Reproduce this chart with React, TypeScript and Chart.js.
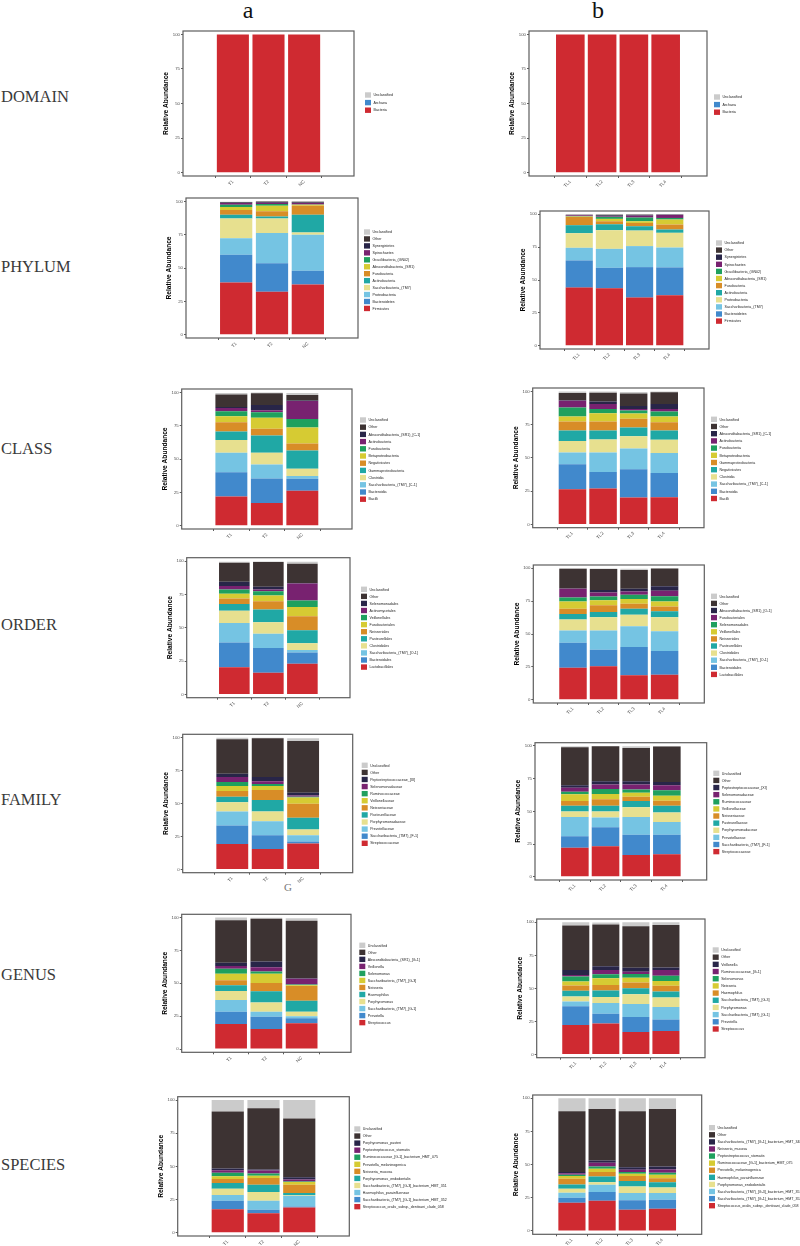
import React, { useEffect, useRef } from 'react';
import { Chart, registerables } from 'chart.js';

Chart.register(...registerables);
Chart.defaults.font.family = '"Liberation Sans", Arial, Helvetica, sans-serif';

// ---------- data ----------
const SAMPLES_A = ['T1', 'T2', 'NC'];
const SAMPLES_B = ['TL1', 'TL2', 'TL3', 'TL4'];
const Y_TICKS = [0, 25, 50, 75, 100];
const PALETTE = ['#CF2A31', '#4189CC', '#75C4E3', '#E7E08F', '#20A8A5', '#D88D27', '#D6CB33', '#1FA05E', '#782270', '#282548', '#3D3333', '#CBCBCB'];
const DOMAIN_PALETTE = ['#CF2A31', '#4189CC', '#CBCBCB'];
const ROW_LABELS = ['DOMAIN', 'PHYLUM', 'CLASS', 'ORDER', 'FAMILY', 'GENUS', 'SPECIES'];
const COLUMN_LABELS = ['a', 'b'];

const DOMAIN_TAXA = ['Bacteria', 'Archaea', 'Unclassified'];
const DOMAIN_A_VALUES = [[99.98, 99.98, 99.98], [0.01, 0.01, 0.01], [0.01, 0.01, 0.01]];
const DOMAIN_B_VALUES = [[99.98, 99.98, 99.98, 99.98], [0.01, 0.01, 0.01, 0.01], [0.01, 0.01, 0.01, 0.01]];

const PHYLUM_A_TAXA = ['Firmicutes', 'Bacteroidetes', 'Proteobacteria', 'Saccharibacteria_(TM7)', 'Actinobacteria', 'Fusobacteria', 'Absconditabacteria_(SR1)', 'Gracilibacteria_(GN02)', 'Spirochaetes', 'Synergistetes', 'Other', 'Unclassified'];
const PHYLUM_A_VALUES = [
  [39.1, 32.1, 37.6], [20.8, 21.5, 10.3], [12.5, 22.6, 27.0], [14.8, 11.0, 1.8],
  [2.8, 1.5, 13.3], [3.5, 3.8, 6.7], [2.2, 4.2, 0.8], [1.8, 1.3, 0.2],
  [1.2, 1.0, 1.0], [0.5, 0.5, 0.5], [0.3, 0.3, 0.5], [0.2, 0.2, 0.3],
];
const PHYLUM_B_TAXA = ['Firmicutes', 'Bacteroidetes', 'Saccharibacteria_(TM7)', 'Proteobacteria', 'Actinobacteria', 'Fusobacteria', 'Absconditabacteria_(SR1)', 'Gracilibacteria_(GN02)', 'Spirochaetes', 'Synergistetes', 'Other', 'Unclassified'];
const PHYLUM_B_VALUES = [
  [44.2, 43.7, 36.6, 38.4], [20.7, 15.6, 23.2, 21.2], [9.6, 14.4, 16.0, 15.1], [11.1, 14.2, 11.8, 11.2],
  [6.1, 4.5, 3.3, 2.5], [6.3, 2.3, 2.5, 3.8], [0.3, 1.8, 1.3, 3.8], [0.3, 1.5, 2.8, 1.2],
  [0.6, 0.5, 1.5, 2.3], [0.3, 0.7, 0.5, 0.2], [0.2, 0.5, 0.3, 0.2], [0.2, 0.3, 0.2, 0.1],
];

const CLASS_A_TAXA = ['Bacilli', 'Bacteroidia', 'Saccharibacteria_(TM7)_[C-1]', 'Clostridia', 'Gammaproteobacteria', 'Negativicutes', 'Betaproteobacteria', 'Fusobacteriia', 'Actinobacteria', 'Absconditabacteria_(SR1)_[C-1]', 'Other', 'Unclassified'];
const CLASS_A_VALUES = [
  [21.9, 17.0, 26.2], [18.2, 18.4, 9.0], [14.5, 10.5, 2.0], [9.7, 8.7, 5.4],
  [6.3, 13.0, 13.8], [7.0, 5.0, 5.2], [4.4, 8.4, 12.0], [3.8, 4.0, 6.4],
  [2.5, 1.5, 13.5], [0.7, 4.0, 0.3], [9.3, 8.8, 4.2], [1.2, 0.5, 1.5],
];
const CLASS_B_TAXA = ['Bacilli', 'Bacteroidia', 'Saccharibacteria_(TM7)_[C-1]', 'Clostridia', 'Negativicutes', 'Gammaproteobacteria', 'Betaproteobacteria', 'Fusobacteriia', 'Actinobacteria', 'Absconditabacteria_(SR1)_[C-1]', 'Other', 'Unclassified'];
const CLASS_B_VALUES = [
  [26.4, 26.9, 20.2, 20.4], [18.7, 12.5, 21.2, 18.3], [9.0, 14.7, 15.7, 14.9], [8.5, 9.7, 9.2, 10.0],
  [8.0, 6.8, 6.5, 7.0], [6.7, 6.7, 6.5, 6.2], [3.7, 6.2, 4.0, 4.2], [6.8, 3.3, 2.2, 3.8],
  [5.2, 3.7, 1.3, 2.0], [0.3, 1.8, 2.2, 3.7], [5.5, 6.7, 9.3, 8.8], [1.0, 0.8, 1.2, 0.5],
];

const ORDER_A_TAXA = ['Lactobacillales', 'Bacteroidales', 'Saccharibacteria_(TM7)_[O-1]', 'Clostridiales', 'Pasteurellales', 'Neisseriales', 'Fusobacteriales', 'Veillonellales', 'Actinomycetales', 'Selenomonadales', 'Other', 'Unclassified'];
const ORDER_A_VALUES = [
  [20.4, 16.3, 22.9], [18.5, 18.4, 8.5], [14.6, 10.8, 1.8], [9.3, 8.5, 5.2],
  [5.0, 9.6, 9.6], [4.1, 6.2, 10.5], [3.5, 4.3, 7.1], [3.2, 3.3, 4.8],
  [2.6, 1.2, 12.8], [3.2, 2.1, 0.3], [14.3, 18.5, 14.5], [0.8, 0.5, 1.5],
];
const ORDER_B_TAXA = ['Lactobacillales', 'Bacteroidales', 'Saccharibacteria_(TM7)_[O-1]', 'Clostridiales', 'Pasteurellales', 'Neisseriales', 'Veillonellales', 'Selenomonadales', 'Fusobacteriales', 'Absconditabacteria_(SR1)_[O-1]', 'Other', 'Unclassified'];
const ORDER_B_VALUES = [
  [24.4, 25.4, 18.6, 18.9], [18.9, 12.6, 21.5, 18.1], [9.3, 14.6, 15.8, 15.1], [8.4, 10.1, 8.8, 10.6],
  [4.2, 4.1, 4.6, 4.6], [4.1, 5.0, 3.7, 3.7], [5.5, 3.8, 3.6, 3.8], [3.0, 3.0, 3.2, 4.0],
  [6.6, 3.0, 2.6, 4.1], [0.2, 1.8, 2.0, 3.5], [15.1, 16.1, 14.3, 13.4], [0.3, 0.3, 1.0, 0.2],
];

const FAMILY_A_TAXA = ['Streptococcaceae', 'Saccharibacteria_(TM7)_[F-1]', 'Prevotellaceae', 'Porphyromonadaceae', 'Pasteurellaceae', 'Neisseriaceae', 'Veillonellaceae', 'Ruminococcaceae', 'Selenomonadaceae', 'Peptostreptococcaceae_[XI]', 'Other', 'Unclassified'];
const FAMILY_A_VALUES = [
  [19.2, 15.4, 19.7], [14.1, 10.5, 1.4], [10.7, 10.7, 4.8], [7.0, 7.4, 4.4],
  [4.2, 8.7, 8.8], [4.3, 7.5, 10.7], [3.7, 3.0, 4.7], [3.2, 1.5, 0.7],
  [3.7, 2.2, 0.8], [2.5, 3.2, 2.2], [26.2, 29.4, 39.3], [1.0, 0.3, 2.0],
];
const FAMILY_B_TAXA = ['Streptococcaceae', 'Saccharibacteria_(TM7)_[F-1]', 'Prevotellaceae', 'Porphyromonadaceae', 'Pasteurellaceae', 'Neisseriaceae', 'Veillonellaceae', 'Ruminococcaceae', 'Selenomonadaceae', 'Peptostreptococcaceae_[XI]', 'Other', 'Unclassified'];
const FAMILY_B_VALUES = [
  [22.2, 23.4, 16.6, 17.1], [8.8, 14.4, 15.6, 15.1], [14.6, 7.5, 13.4, 9.6], [4.3, 4.6, 7.5, 7.3],
  [4.3, 4.3, 4.8, 5.1], [3.7, 5.0, 3.3, 4.0], [5.1, 4.0, 3.0, 3.8], [2.0, 3.8, 2.6, 4.2],
  [3.0, 3.5, 3.7, 3.8], [2.0, 2.5, 2.5, 2.5], [29.0, 26.7, 25.5, 27.0], [0.8, 0.3, 1.2, 0.5],
];

const GENUS_A_TAXA = ['Streptococcus', 'Prevotella', 'Saccharibacteria_(TM7)_[G-1]', 'Porphyromonas', 'Haemophilus', 'Neisseria', 'Saccharibacteria_(TM7)_[G-3]', 'Selenomonas', 'Veillonella', 'Absconditabacteria_(SR1)_[G-1]', 'Other', 'Unclassified'];
const GENUS_A_VALUES = [
  [19.1, 15.3, 19.6], [9.3, 9.3, 3.8], [8.8, 3.8, 1.5], [7.0, 7.0, 3.5],
  [4.3, 8.6, 8.3], [3.8, 6.3, 11.3], [5.0, 7.0, 0.5], [3.8, 1.7, 0.5],
  [2.0, 3.3, 4.5], [2.5, 4.3, 0.3], [32.4, 32.6, 43.7], [2.0, 0.6, 2.0],
];
const GENUS_B_TAXA = ['Streptococcus', 'Prevotella', 'Saccharibacteria_(TM7)_[G-1]', 'Porphyromonas', 'Saccharibacteria_(TM7)_[G-3]', 'Haemophilus', 'Neisseria', 'Selenomonas', 'Ruminococcaceae_[G-1]', 'Veillonella', 'Other', 'Unclassified'];
const GENUS_B_VALUES = [
  [22.2, 23.4, 17.0, 17.7], [14.2, 7.3, 11.4, 8.7], [3.7, 8.2, 9.8, 9.5], [3.8, 4.5, 7.4, 7.2],
  [4.2, 5.0, 4.5, 4.5], [4.0, 4.2, 4.3, 4.3], [3.0, 5.0, 3.7, 3.7], [3.8, 3.0, 2.7, 4.0],
  [1.2, 3.2, 1.8, 4.2], [3.7, 3.0, 3.0, 2.0], [33.7, 31.5, 31.4, 32.2], [2.5, 1.5, 3.0, 2.0],
];

const SPECIES_A_TAXA = ['Streptococcus_oralis_subsp._dentisani_clade_058', 'Saccharibacteria_(TM7)_[G-1]_bacterium_HMT_352', 'Haemophilus_parainfluenzae', 'Saccharibacteria_(TM7)_[G-3]_bacterium_HMT_351', 'Porphyromonas_endodontalis', 'Neisseria_mucosa', 'Prevotella_melaninogenica', 'Ruminococcaceae_[G-1]_bacterium_HMT_075', 'Peptostreptococcus_stomatis', 'Porphyromonas_pasteri', 'Other', 'Unclassified'];
const SPECIES_A_VALUES = [
  [17.7, 14.7, 19.0], [6.4, 2.5, 0.7], [4.3, 6.9, 8.1], [4.8, 6.5, 0.6],
  [4.3, 5.6, 1.5], [3.0, 5.1, 6.3], [2.0, 1.7, 2.0], [2.6, 1.6, 0.4],
  [2.0, 2.2, 1.4], [1.3, 0.8, 1.8], [43.0, 46.1, 44.3], [8.6, 6.3, 13.9],
];
const SPECIES_B_TAXA = ['Streptococcus_oralis_subsp._dentisani_clade_058', 'Saccharibacteria_(TM7)_[G-1]_bacterium_HMT_352', 'Saccharibacteria_(TM7)_[G-3]_bacterium_HMT_351', 'Porphyromonas_endodontalis', 'Haemophilus_parainfluenzae', 'Prevotella_melaninogenica', 'Ruminococcaceae_[G-1]_bacterium_HMT_075', 'Peptostreptococcus_stomatis', 'Neisseria_mucosa', 'Saccharibacteria_(TM7)_[G-1]_bacterium_HMT_348', 'Other', 'Unclassified'];
const SPECIES_B_VALUES = [
  [21.3, 22.8, 16.0, 16.8], [3.8, 6.5, 7.1, 6.8], [3.7, 5.5, 5.5, 5.0], [3.0, 2.0, 5.0, 4.2],
  [3.3, 4.3, 4.0, 4.0], [4.2, 3.3, 3.8, 3.0], [2.1, 2.5, 1.7, 2.6], [1.0, 1.7, 1.3, 1.5],
  [1.2, 2.8, 1.7, 2.5], [0.8, 1.7, 2.0, 2.2], [45.8, 38.9, 42.1, 43.4], [9.8, 8.0, 9.8, 8.0],
];

// ---------- layout ----------
type Spec = {
  taxa: string[]; values: number[][]; samples: string[]; colors: string[];
  x0: number; y0: number; x1: number; y1: number;
  lx: number; ly: number; ls: number; right: number;
};

const RIGHT_A = 470;
const RIGHT_B = 800;

const CHARTS: Spec[] = [
  { taxa: DOMAIN_TAXA, values: DOMAIN_A_VALUES, samples: SAMPLES_A, colors: DOMAIN_PALETTE, x0: 183, y0: 31, x1: 354, y1: 176, lx: 365, ly: 95, ls: 7.6, right: RIGHT_A },
  { taxa: DOMAIN_TAXA, values: DOMAIN_B_VALUES, samples: SAMPLES_B, colors: DOMAIN_PALETTE, x0: 529, y0: 31, x1: 707, y1: 176, lx: 714, ly: 97, ls: 7.6, right: RIGHT_B },
  { taxa: PHYLUM_A_TAXA, values: PHYLUM_A_VALUES, samples: SAMPLES_A, colors: PALETTE, x0: 186, y0: 198, x1: 358, y1: 338, lx: 364, ly: 232, ls: 6.95, right: RIGHT_A },
  { taxa: PHYLUM_B_TAXA, values: PHYLUM_B_VALUES, samples: SAMPLES_B, colors: PALETTE, x0: 540, y0: 211, x1: 709, y1: 349, lx: 716, ly: 243, ls: 7.1, right: RIGHT_B },
  { taxa: CLASS_A_TAXA, values: CLASS_A_VALUES, samples: SAMPLES_A, colors: PALETTE, x0: 181.7, y0: 389, x1: 352, y1: 529, lx: 360, ly: 420, ls: 7.2, right: RIGHT_A },
  { taxa: CLASS_B_TAXA, values: CLASS_B_VALUES, samples: SAMPLES_B, colors: PALETTE, x0: 532.7, y0: 388, x1: 704, y1: 527.7, lx: 711, ly: 419.3, ls: 7.2, right: RIGHT_B },
  { taxa: ORDER_A_TAXA, values: ORDER_A_VALUES, samples: SAMPLES_A, colors: PALETTE, x0: 186.7, y0: 557.7, x1: 350, y1: 697.7, lx: 361, ly: 589.3, ls: 7.07, right: RIGHT_A },
  { taxa: ORDER_B_TAXA, values: ORDER_B_VALUES, samples: SAMPLES_B, colors: PALETTE, x0: 533.3, y0: 565, x1: 704.3, y1: 703, lx: 711, ly: 596.3, ls: 7.1, right: RIGHT_B },
  { taxa: FAMILY_A_TAXA, values: FAMILY_A_VALUES, samples: SAMPLES_A, colors: PALETTE, x0: 182.7, y0: 734.3, x1: 352.7, y1: 872.7, lx: 361.7, ly: 765.3, ls: 7.09, right: RIGHT_A },
  { taxa: FAMILY_B_TAXA, values: FAMILY_B_VALUES, samples: SAMPLES_B, colors: PALETTE, x0: 535, y0: 742.7, x1: 706.7, y1: 880, lx: 713.3, ly: 773.3, ls: 7.12, right: RIGHT_B },
  { taxa: GENUS_A_TAXA, values: GENUS_A_VALUES, samples: SAMPLES_A, colors: PALETTE, x0: 181.7, y0: 914.3, x1: 351, y1: 1052.3, lx: 359.3, ly: 945.3, ls: 7.03, right: RIGHT_A },
  { taxa: GENUS_B_TAXA, values: GENUS_B_VALUES, samples: SAMPLES_B, colors: PALETTE, x0: 536.7, y0: 919, x1: 705, y1: 1057.7, lx: 712.7, ly: 950, ls: 7.18, right: RIGHT_B },
  { taxa: SPECIES_A_TAXA, values: SPECIES_A_VALUES, samples: SAMPLES_A, colors: PALETTE, x0: 177.7, y0: 1096.7, x1: 349.3, y1: 1236, lx: 354.3, ly: 1129, ls: 7.06, right: RIGHT_A },
  { taxa: SPECIES_B_TAXA, values: SPECIES_B_VALUES, samples: SAMPLES_B, colors: PALETTE, x0: 532.7, y0: 1095, x1: 701.7, y1: 1234.3, lx: 709, ly: 1127.7, ls: 7.09, right: RIGHT_B },
];

const ROW_Y = [97, 267, 449, 625, 800, 975, 1165];
const COLUMN_X = [248, 598];
const PAGE_H = 1246;
const Y_AXIS_W = 20.5;
const X_AXIS_H = 20;
const AXIS_TEXT = '#4d4d4d';

function StackChart({ spec }: { spec: Spec }) {
  const ref = useRef<HTMLCanvasElement | null>(null);
  const cx = Math.floor(spec.x0) - 24;
  const cy = Math.floor(spec.y0) - 8;
  const cr = spec.right;
  const cb = Math.min(PAGE_H, Math.ceil(spec.y1) + 28);
  const cw = cr - cx;
  const ch = cb - cy;

  useEffect(() => {
    const n = spec.samples.length;
    const xH = Math.min(X_AXIS_H, cb - spec.y1);
    const datasets = spec.taxa.map((t, i) => ({
      label: t,
      data: spec.values[i].map((v, j) => ({ x: j + 1, y: v })),
      backgroundColor: spec.colors[i],
      borderWidth: 0,
      categoryPercentage: 1,
      barPercentage: 0.9,
    }));

    const panelBox = {
      id: 'panelBox',
      afterDatasetsDraw(chart: any) {
        const { ctx, chartArea: a } = chart;
        ctx.save();
        ctx.strokeStyle = '#5e5e5e';
        ctx.lineWidth = 1.2;
        ctx.strokeRect(a.left, a.top, a.right - a.left, a.bottom - a.top);
        ctx.restore();
      },
    };
    const sideLegend = {
      id: 'sideLegend',
      afterDraw(chart: any) {
        const ctx = chart.ctx;
        const ds = chart.data.datasets;
        ctx.save();
        ctx.font = '3.6px "Liberation Sans", Arial, sans-serif';
        ctx.textBaseline = 'middle';
        ctx.textAlign = 'left';
        for (let k = 0; k < ds.length; k++) {
          const d = ds[ds.length - 1 - k];
          const y = spec.ly - cy + k * spec.ls;
          const x = spec.lx - cx;
          ctx.fillStyle = d.backgroundColor;
          ctx.fillRect(x, y - 2.7, 6, 5.4);
          ctx.fillStyle = '#222';
          ctx.fillText(d.label, x + 8.5, y + 0.2);
        }
        ctx.restore();
      },
    };

    const chart = new Chart(ref.current as HTMLCanvasElement, {
      type: 'bar',
      data: { datasets } as any,
      options: {
        animation: false,
        responsive: false,
        maintainAspectRatio: false,
        layout: {
          padding: {
            left: spec.x0 - cx - Y_AXIS_W,
            top: spec.y0 - cy,
            right: cr - spec.x1,
            bottom: cb - spec.y1 - xH,
          },
        },
        plugins: { legend: { display: false }, tooltip: { enabled: false }, title: { display: false } },
        scales: {
          x: {
            type: 'linear',
            stacked: true,
            min: 0.4,
            max: n + 0.6,
            afterBuildTicks: (s: any) => { s.ticks = spec.samples.map((_, j) => ({ value: j + 1 })); },
            afterFit: (s: any) => { s.height = xH; },
            ticks: {
              autoSkip: false,
              minRotation: 45,
              maxRotation: 45,
              padding: 1,
              color: AXIS_TEXT,
              font: { size: 4.6 },
              callback: (v: any) => spec.samples[Math.round(Number(v)) - 1] ?? '',
            },
            grid: { display: true, drawOnChartArea: false, drawTicks: true, tickLength: 2, color: '#333', lineWidth: 0.8 },
            border: { display: false },
          },
          y: {
            type: 'linear',
            stacked: true,
            min: -2.5,
            max: 102.5,
            afterBuildTicks: (s: any) => { s.ticks = Y_TICKS.map((v) => ({ value: v })); },
            afterFit: (s: any) => { s.width = Y_AXIS_W; },
            ticks: { padding: 1, color: AXIS_TEXT, font: { size: 4.3 }, callback: (v: any) => String(Math.round(Number(v))) },
            grid: { display: true, drawOnChartArea: false, drawTicks: true, tickLength: 2, color: '#333', lineWidth: 0.8 },
            border: { display: false },
            title: { display: true, text: 'Relative Abundance', color: '#000', padding: 0, font: { size: 6.6, weight: 'bold' } },
          },
        },
      } as any,
      plugins: [panelBox, sideLegend],
    });
    return () => chart.destroy();
  }, []);

  return (
    <canvas
      ref={ref}
      width={cw}
      height={ch}
      style={{ position: 'absolute', left: cx, top: cy, width: cw, height: ch }}
    />
  );
}

export default function App() {
  const serif = '"Liberation Serif", "Times New Roman", Times, serif';
  return (
    <div style={{ position: 'absolute', left: 0, top: 0, width: 800, height: PAGE_H, background: '#fff', overflow: 'hidden' }}>
      {COLUMN_LABELS.map((c, i) => (
        <div key={c} style={{ position: 'absolute', left: COLUMN_X[i], top: -2.5, transform: 'translateX(-50%)', fontFamily: serif, fontSize: 24, lineHeight: 1, color: '#111' }}>{c}</div>
      ))}
      {ROW_LABELS.map((r, i) => (
        <div key={r} style={{ position: 'absolute', left: 1, top: ROW_Y[i] - 8.4, fontFamily: serif, fontSize: 16.5, lineHeight: 1, color: '#3a3a3a' }}>{r}</div>
      ))}
      <div style={{ position: 'absolute', left: 288, top: 882, transform: 'translateX(-50%)', fontFamily: serif, fontSize: 11, lineHeight: 1, color: '#777' }}>G</div>
      {CHARTS.map((s, i) => <StackChart key={i} spec={s} />)}
    </div>
  );
}
